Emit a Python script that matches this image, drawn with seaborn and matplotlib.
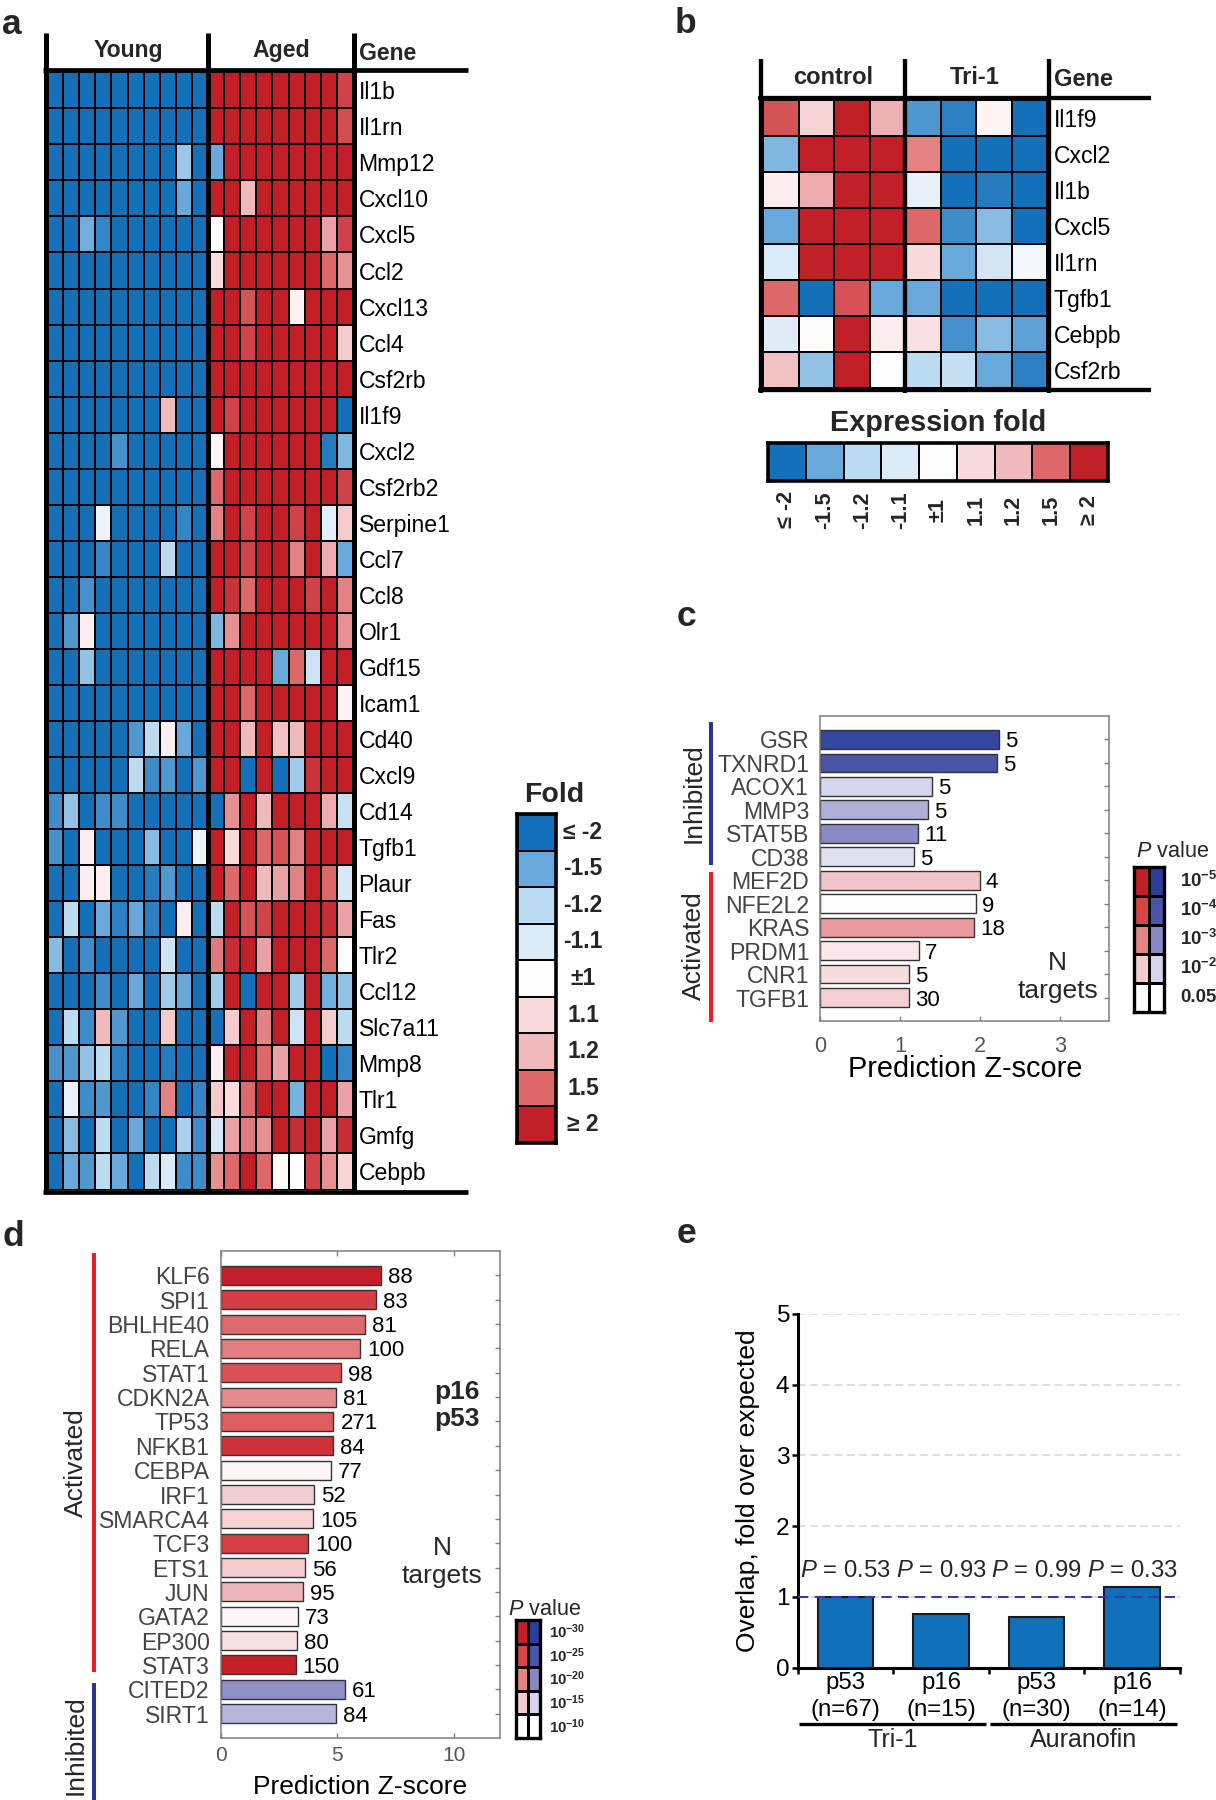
import numpy as np
import pandas as pd
import matplotlib
matplotlib.use("Agg")
import matplotlib.pyplot as plt
import seaborn as sns
from matplotlib.colors import LinearSegmentedColormap, ListedColormap
from matplotlib.transforms import blended_transform_factory as blend

sns.set_theme(style="white")
plt.rcParams["font.family"] = ["Liberation Sans", "DejaVu Sans"]
plt.rcParams["mathtext.fontset"] = "custom"
plt.rcParams["mathtext.rm"] = "Liberation Sans"
plt.rcParams["mathtext.it"] = "Liberation Sans:italic"
plt.rcParams["mathtext.bf"] = "Liberation Sans:bold"

# ---------------- data ----------------
# fold levels: -4 = "<= -2" ... 0 = "+-1" ... 4 = ">= 2"
fold_labels = ["≤ -2", "-1.5", "-1.2", "-1.1", "±1", "1.1", "1.2", "1.5", "≥ 2"]
fold_levels = [-4, -3, -2, -1, 0, 1, 2, 3, 4]

a_genes = ["Il1b", "Il1rn", "Mmp12", "Cxcl10", "Cxcl5", "Ccl2", "Cxcl13", "Ccl4", "Csf2rb",
           "Il1f9", "Cxcl2", "Csf2rb2", "Serpine1", "Ccl7", "Ccl8", "Olr1", "Gdf15", "Icam1",
           "Cd40", "Cxcl9", "Cd14", "Tgfb1", "Plaur", "Fas", "Tlr2", "Ccl12", "Slc7a11",
           "Mmp8", "Tlr1", "Gmfg", "Cebpb"]
a_young = [
    [-4, -4, -4, -4, -4, -4, -4, -4, -4, -4],
    [-4, -4, -4, -4, -4, -4, -4, -4, -4, -4],
    [-4, -4, -4, -4, -4, -4, -4, -4, -2.4, -4],
    [-4, -4, -4, -4, -4, -4, -4, -4, -3, -4],
    [-4, -4, -2.9, -3.6, -4, -4, -4, -4, -4, -4],
    [-4, -4, -4, -4, -4, -4, -4, -4, -4, -4],
    [-4, -4, -4, -4, -4, -4, -4, -4, -4, -4],
    [-4, -4, -4, -4, -4, -4, -4, -4, -4, -4],
    [-4, -4, -4, -4, -4, -4, -4, -4, -4, -4],
    [-4, -4, -4, -4, -4, -4, -4, 2, -4, -4],
    [-4, -4, -4, -4, -3.4, -4, -4, -4, -4, -4],
    [-4, -4, -4, -4, -4, -4, -4, -4, -4, -4],
    [-4, -4, -4, -0.5, -4, -4, -4, -4, -3.6, -4],
    [-4, -4, -4, -3.6, -4, -4, -4, -2, -4, -4],
    [-4, -4, -3.4, -4, -4, -4, -4, -4, -4, -4],
    [-4, -3.3, 0.5, -4, -4, -4, -4, -4, -4, -4],
    [-4, -4, -2.5, -4, -4, -4, -4, -4, -4, -4],
    [-4, -4, -4, -4, -4, -4, -4, -4, -4, -4],
    [-4, -4, -4, -4, -4, -3.3, -2, 0.5, -3, -4],
    [-4, -4, -4, -4, -4, -2, -3.5, -3.3, -4, -3.3],
    [-3.5, -2.5, -4, -3.5, -3.5, -4, -4, -4, -4, -4],
    [-3.4, -4, 0.5, -4, -4, -4, -2.6, -4, -4, -0.5],
    [-4, -4, 0.5, 0.5, -4, -4, -3.8, -3.3, -4, -4],
    [-4, -2, -4, -3, -3.7, -3, -3.7, -4, 0.5, -4],
    [-2.6, -4, -3.5, -4, -4, -4, -4, -1.4, -4, -4],
    [-4, -4, -4, -3.5, -4, -3, -4, -2.3, -3, -4],
    [-4, -2, -3.5, 2, -3.3, -4, -4, 1.5, -4, -4],
    [-3.4, -3.3, -2.5, -2, -3.7, -4, -4, -3.8, -4, -4],
    [-4, -0.6, -3.5, -3.3, -4, -4, -3.6, 2.7, -4, -3.6],
    [-4, -2.6, -4, -2, -4, -3, -4, -4, -2.2, -3.5],
    [-4, -3, -3.3, -2, -3, -4, -2, -1, -3.5, -3.5],
]
a_aged = [
    [4, 4, 4, 4, 4, 4, 4, 4, 3.5],
    [4, 4, 4, 4, 4, 4, 4, 4, 3.4],
    [-3, 4, 4, 4, 4, 4, 4, 4, 4],
    [4, 4, 2, 4, 4, 4, 4, 4, 4],
    [0, 4, 4, 4, 4, 4, 4, 2.3, 3.5],
    [1, 4, 4, 4, 4, 4, 4, 3, 2.5],
    [4, 4, 3.3, 4, 4, 0.4, 4, 4, 4],
    [4, 4, 3.5, 4, 4, 4, 4, 4, 1.5],
    [4, 4, 4, 4, 4, 4, 4, 4, 4],
    [4, 3.5, 4, 4, 4, 4, 4, 4, -4],
    [0.3, 4, 4, 4, 4, 4, 4, -3.8, -2.7],
    [3, 4, 4, 4, 4, 4, 4, 4, 3.5],
    [2.7, 4, 3.5, 4, 4, 3.5, 4, -0.8, 1.5],
    [4, 4, 3.5, 4, 4, 2.7, 4, 2.2, -3],
    [4, 3.7, 3, 4, 4, 4, 3.5, 4, 2.7],
    [-2.7, 2.5, 4, 4, 4, 4, 4, 4, 2.5],
    [4, 4, 4, 4, -3, 3, -1.5, 4, 4],
    [4, 4, 3, 4, 4, 4, 4, 4, 0.3],
    [4, 4, 2, 4, 1.8, 2, 4, 4, 4],
    [4, 4, -4, 4, -4, -2.3, 3.7, 4, 4],
    [-4, 2.5, 4, 2, 4, 4, 4, 2.2, -1.6],
    [4, 1, 4, 3, 3.3, 2.7, 4, 4, 4],
    [4, 3, 4, 2, 2.3, 2.7, 4, 3, -1.1],
    [-2, 4, 3.3, 3.5, 4, 4, 4, 3.8, 2.3],
    [2.8, 3.8, 4, 2.3, 4, 4, 4, 3, 0],
    [-2.3, 4, -4, 4, 4, -2.3, 4, -2.9, -2.5],
    [-4, 1.5, 4, 2.7, 4, -1.5, 4, 1.5, -2],
    [0.5, 4, 4, 3, 2.3, 4, 4, -4, -3.6],
    [1.5, 1, 3, 4, 4, -2.8, 4, 4, 2.3],
    [-1.2, 2.3, 2.8, 2.5, 4, 3.8, 4, 2.3, 3.8],
    [2.5, 3, 4, 3, 0.1, 0, 3.5, 2.5, 1.2],
]

b_genes = ["Il1f9", "Cxcl2", "Il1b", "Cxcl5", "Il1rn", "Tgfb1", "Cebpb", "Csf2rb"]
b_control = [
    [3.3, 1.3, 4, 2.1],
    [-2.7, 4, 4, 4],
    [0.5, 2.2, 4, 4],
    [-3, 4, 4, 4],
    [-1, 4, 4, 4],
    [3, -4, 3.3, -3],
    [-0.9, 0.1, 4, 0.5],
    [1.8, -2.5, 4, 0],
]
b_tri1 = [
    [-3.3, -3.7, 0.3, -4],
    [2.7, -4, -4, -4],
    [-0.7, -4, -3.8, -4],
    [3, -3.5, -2.6, -4],
    [1, -3, -1.3, -0.4],
    [-3, -4, -4, -4],
    [0.9, -3.4, -2.6, -3.1],
    [-2, -1.7, -3, -3.7],
]

# P value level: 0 = most significant ... 4 = least significant
c_genes = ["GSR", "TXNRD1", "ACOX1", "MMP3", "STAT5B", "CD38",
           "MEF2D", "NFE2L2", "KRAS", "PRDM1", "CNR1", "TGFB1"]
c_z = [2.23, 2.21, 1.39, 1.35, 1.225, 1.17, 1.99, 1.95, 1.92, 1.23, 1.11, 1.11]
c_n = [5, 5, 5, 5, 11, 5, 4, 9, 18, 7, 5, 30]
c_plevel = [0.3, 1.0, 3.0, 2.5, 2.0, 3.3, 2.9, 3.95, 2.3, 3.5, 3.3, 3.05]
c_group = ["Inhibited"] * 6 + ["Activated"] * 6
c_p_labels = [r"$\mathbf{10^{-5}}$", r"$\mathbf{10^{-4}}$", r"$\mathbf{10^{-3}}$",
              r"$\mathbf{10^{-2}}$", "0.05"]

d_genes = ["KLF6", "SPI1", "BHLHE40", "RELA", "STAT1", "CDKN2A", "TP53", "NFKB1", "CEBPA",
           "IRF1", "SMARCA4", "TCF3", "ETS1", "JUN", "GATA2", "EP300", "STAT3",
           "CITED2", "SIRT1"]
d_z = [6.85, 6.66, 6.2, 5.99, 5.16, 4.93, 4.83, 4.81, 4.73, 4.0, 3.96, 3.76, 3.6, 3.51,
       3.31, 3.26, 3.21, 5.34, 4.93]
d_n = [88, 83, 81, 100, 98, 81, 271, 84, 77, 52, 105, 100, 56, 95, 73, 80, 150, 61, 84]
d_plevel = [0.0, 0.8, 1.6, 1.9, 1.2, 2.1, 1.4, 0.5, 3.8, 3.0, 3.1, 0.9, 3.0, 2.7, 3.8,
            3.4, 0.0, 2.1, 2.6]
d_group = ["Activated"] * 17 + ["Inhibited"] * 2
d_p_labels = [r"$\mathbf{10^{-30}}$", r"$\mathbf{10^{-25}}$", r"$\mathbf{10^{-20}}$",
              r"$\mathbf{10^{-15}}$", r"$\mathbf{10^{-10}}$"]

e_labels = ["p53\n(n=67)", "p16\n(n=15)", "p53\n(n=30)", "p16\n(n=14)"]
e_fold = [1.0, 0.76, 0.72, 1.145]
e_p = ["0.53", "0.93", "0.99", "0.33"]
e_treat = ["Tri-1", "Tri-1", "Auranofin", "Auranofin"]

# ---------------- colours ----------------
fold_colors = ["#1470b8", "#68a8da", "#bbdbf0", "#dbeaf7", "#ffffff",
               "#f9dcdf", "#f0bbbd", "#de6a6c", "#c11f27"]
fold_cmap = LinearSegmentedColormap.from_list("fold", fold_colors)
red_p = ["#c41f26", "#d84448", "#e48486", "#f4cccf", "#ffffff"]
blue_p = ["#2b3f99", "#4a55a8", "#8888c4", "#d4d4ec", "#ffffff"]
red_cmap = LinearSegmentedColormap.from_list("pred", red_p)
blue_cmap = LinearSegmentedColormap.from_list("pblue", blue_p)
GRAY = "#444444"


def bar_color(level, group):
    cmap = blue_cmap if group == "Inhibited" else red_cmap
    return cmap(level / 4)


W, H = 1216, 1800
fig = plt.figure(figsize=(W / 100, H / 100), dpi=100)


def place(x0, y0, x1, y1):
    # axes box given in pixels from the top-left corner
    return fig.add_axes([x0 / W, 1 - y1 / H, (x1 - x0) / W, (y1 - y0) / H])


def boxed(ax, lw):
    for s in ax.spines.values():
        s.set_visible(True)
        s.set_linewidth(lw)
        s.set_color("black")


# ---------------- panel a ----------------
a_df = pd.DataFrame([y + a for y, a in zip(a_young, a_aged)], index=a_genes)
ax_a = place(47, 72.3, 353, 1189.5)
sns.heatmap(a_df, ax=ax_a, cmap=fold_cmap, vmin=-4, vmax=4, cbar=False,
            linewidths=1.1, linecolor="black", xticklabels=False, yticklabels=True)
ax_a.yaxis.tick_right()
ax_a.tick_params(axis="y", length=0, pad=4, labelsize=16.6, labelrotation=0, labelcolor="black")

ax_f = place(517.3, 814, 555.7, 1143)
sns.heatmap(pd.DataFrame({"fold": fold_levels}), ax=ax_f, cmap=fold_cmap, vmin=-4, vmax=4,
            cbar=False, linewidths=1.1, linecolor="black", xticklabels=False, yticklabels=False)
boxed(ax_f, 2.6)
tr = blend(ax_f.transAxes, ax_f.transData)
for i, lab in enumerate(fold_labels):
    ax_f.text(1.71, i + 0.5, lab, transform=tr, ha="center", va="center",
              fontsize=16.5, fontweight="bold")
ax_f.text(0.96, 1.058, "Fold", transform=ax_f.transAxes, ha="center", va="center",
          fontsize=20.5, fontweight="bold")

# ---------------- panel b ----------------
b_df = pd.DataFrame([c + t for c, t in zip(b_control, b_tri1)], index=b_genes)
ax_b = place(763, 100, 1047, 387.7)
sns.heatmap(b_df, ax=ax_b, cmap=fold_cmap, vmin=-4, vmax=4, cbar=False,
            linewidths=1.4, linecolor="black", xticklabels=False, yticklabels=True)
ax_b.yaxis.tick_right()
ax_b.tick_params(axis="y", length=0, pad=5, labelsize=16.6, labelrotation=0, labelcolor="black")

ax_eb = place(768, 443, 1108, 481)
sns.heatmap(pd.DataFrame([fold_levels]), ax=ax_eb, cmap=fold_cmap, vmin=-4, vmax=4,
            cbar=False, linewidths=1.4, linecolor="black", xticklabels=False, yticklabels=False)
boxed(ax_eb, 2.6)
tr = blend(ax_eb.transData, ax_eb.transAxes)
for i, lab in enumerate(fold_labels):
    ax_eb.text(i + 0.5, -0.76, lab, transform=tr, ha="center", va="center", rotation=90,
               fontsize=15.6, fontweight="bold")
ax_eb.text(0.5, 1.53, "Expression fold", transform=ax_eb.transAxes, ha="center",
           va="center", fontsize=20.8, fontweight="bold")


# ---------------- panels c & d (bar charts) ----------------
def zbar(ax, genes, z, n, plevel, group, xmax, xticks, n_off, bar_w, top_ticks):
    pal = {g: bar_color(l, grp) for g, l, grp in zip(genes, plevel, group)}
    sns.barplot(x=z, y=genes, hue=genes, palette=pal, legend=False, orient="h",
                width=bar_w, saturation=1, edgecolor="#333333", linewidth=1.0, ax=ax)
    ax.set_xlim(0, xmax)
    ax.set_ylim(len(genes), -1)
    ax.set_xticks(xticks)
    for s in ax.spines.values():
        s.set_visible(True)
        s.set_color("#7f7f7f")
        s.set_linewidth(1.1)
    ax.tick_params(axis="x", direction="in", bottom=True, top=top_ticks, length=3.5,
                   width=1, color="#7f7f7f", labelsize=15.6, labelcolor="#555555", pad=11)
    ax.tick_params(axis="y", direction="in", left=False, right=True, length=3.5, width=1,
                   color="#7f7f7f", labelsize=16.6, labelcolor=GRAY, pad=8)
    for i, (zz, nn) in enumerate(zip(z, n)):
        ax.text(zz + n_off, i, str(nn), ha="left", va="center_baseline", fontsize=16,
                color="black")
    ax.set_ylabel("")
    ax.set_xlabel("Prediction Z-score", fontsize=20.8, color="black")


ax_c = place(820.3, 716, 1109.3, 1021)
zbar(ax_c, c_genes, c_z, c_n, c_plevel, c_group, 3.61, [0, 1, 2, 3], 0.075, 0.8, False)
ax_c.xaxis.set_label_coords(0.5, -0.11)
ax_c.text(0.821, 0.143, "N\ntargets", transform=ax_c.transAxes, ha="center", va="center",
          fontsize=19, linespacing=1.2)

ax_d = place(220.7, 1251, 500, 1738)
zbar(ax_d, d_genes, d_z, d_n, d_plevel, d_group, 11.97, [0, 5, 10], 0.3, 0.78, True)
ax_d.tick_params(axis="x", pad=6, labelsize=15)
# the reference crops this label at the page edge; keep it just inside instead
ax_d.xaxis.label.set_fontsize(19)
ax_d.xaxis.label.set_va("bottom")
ax_d.xaxis.set_label_coords(0.5, -(1799.5 - 1738) / (1738 - 1251))
ax_d.text(0.846, 0.682, "p16\np53", transform=ax_d.transAxes, ha="center", va="center",
          fontsize=19, fontweight="bold", linespacing=1.15)
ax_d.text(0.792, 0.361, "N\ntargets", transform=ax_d.transAxes, ha="center", va="center",
          fontsize=19, linespacing=1.2)


def p_legend(box, labels, fs, title_xy):
    ax = place(*box)
    mat = pd.DataFrame({"act": range(5), "inh": range(5, 10)})
    sns.heatmap(mat, ax=ax, cmap=ListedColormap(red_p + blue_p), vmin=-0.5, vmax=9.5,
                cbar=False, linewidths=1.0, linecolor="black", xticklabels=False,
                yticklabels=False)
    boxed(ax, 2.4)
    tr = blend(ax.transAxes, ax.transData)
    for i, lab in enumerate(labels):
        ax.text(1.53 if fs > 12 else 1.4, i + 0.5, lab, transform=tr, ha="left",
                va="center", fontsize=fs, fontweight="bold")
    ax.text(title_xy[0], title_xy[1], r"$P$ value", transform=ax.transAxes, ha="center",
            va="center", fontsize=15.6)
    return ax


p_legend((1134, 866.7, 1164, 1011.7), c_p_labels, 13.4, (1.29, 1.108))
p_legend((515.6, 1620, 539.7, 1738), d_p_labels, 10.8, (1.22, 1.09))

# ---------------- panel e ----------------
ax_e = place(797.7, 1314, 1180, 1667.7)
sns.barplot(x=e_labels, y=e_fold, color="#1170ba", saturation=1, width=0.58,
            edgecolor="#1a1a1a", linewidth=1.5, ax=ax_e, zorder=3)
ax_e.set_xlim(-0.5, 3.5)
ax_e.set_ylim(0, 5)
ax_e.set_yticks(range(6))
ax_e.yaxis.grid(True, linestyle=(0, (5, 3)), color="#d6d6d6", linewidth=1.1)
ax_e.set_axisbelow(True)
ax_e.axhline(1, color="#3a3aa6", linestyle=(0, (5, 3)), linewidth=1.5, zorder=4)
sns.despine(ax=ax_e)
for side in ("left", "bottom"):
    ax_e.spines[side].set_color("black")
    ax_e.spines[side].set_linewidth(2.2)
ax_e.set_xticks(np.arange(-0.5, 4, 1), minor=True)
ax_e.tick_params(axis="x", which="minor", bottom=True, direction="out", length=4,
                 width=1.8, color="black")
ax_e.tick_params(axis="x", which="major", bottom=False, length=0, pad=3, labelsize=17.2,
                 labelcolor="black")
ax_e.tick_params(axis="y", left=True, direction="out", length=4, width=1.8, color="black",
                 labelsize=17.6, pad=2, labelcolor="black")
for lab in ax_e.get_xticklabels():
    lab.set_linespacing(1.3)
for i, p in enumerate(e_p):
    ax_e.text(i, 1.28, r"$P$ = " + p, ha="center", va="baseline", fontsize=17.2)
ax_e.set_ylabel("Overlap, fold over expected", fontsize=19, color="black")
ax_e.yaxis.label.set_va("center")
ax_e.yaxis.set_label_coords(-0.131, 0.5)
ax_e.set_xlabel("")
trx = ax_e.get_xaxis_transform()
for name in dict.fromkeys(e_treat):
    idx = [i for i, t in enumerate(e_treat) if t == name]
    x0, x1 = idx[0] - 0.49, idx[-1] + 0.47
    ax_e.plot([x0, x1], [-0.159, -0.159], transform=trx, color="black", lw=2.4,
              clip_on=False, solid_capstyle="butt")
    ax_e.text((x0 + x1) / 2, -0.204, name, transform=trx, ha="center", va="center",
              fontsize=18)

# ---------------- frames, brackets and panel letters ----------------
ov = fig.add_axes([0, 0, 1, 1], zorder=10)
ov.set_xlim(0, W)
ov.set_ylim(H, 0)
ov.axis("off")


def seg(x0, y0, x1, y1, lw, color="black"):
    ov.plot([x0, x1], [y0, y1], color=color, lw=lw, solid_capstyle="butt")


# panel a table frame
for x in (45.8, 207.8, 353.8):
    seg(x, 33, x, 1194.3, 3.6)
seg(43.3, 70, 468, 70, 3.4)
seg(43.3, 1191.8, 468, 1191.8, 3.4)
ov.text(128, 51, "Young", ha="center", va="center", fontsize=16.6, fontweight="bold")
ov.text(281, 51, "Aged", ha="center", va="center", fontsize=16.6, fontweight="bold")
ov.text(359, 53, "Gene", ha="left", va="center", fontsize=16.6, fontweight="bold")

# panel b table frame
for x in (760.5, 904.5, 1049):
    seg(x, 59.3, x, 392.5, 3.1)
seg(758, 97.8, 1151, 97.8, 3.1)
seg(758, 390, 1151, 390, 3.1)
ov.text(833, 78, "control", ha="center", va="center", fontsize=17, fontweight="bold")
ov.text(975, 78, "Tri-1", ha="center", va="center", fontsize=17, fontweight="bold")
ov.text(1054, 79, "Gene", ha="left", va="center", fontsize=17, fontweight="bold")

# brackets for panels c and d
BLUE, RED = "#2b3490", "#ed1c24"
seg(711.4, 721.7, 711.4, 865, 2.9, BLUE)
seg(711.4, 871.7, 711.4, 1021.7, 2.9, RED)
ov.text(693.5, 793, "Inhibited", rotation=90, ha="center", va="center", fontsize=19)
ov.text(693.5, 946, "Activated", rotation=90, ha="center", va="center", fontsize=19)
seg(94.3, 1253, 94.3, 1672, 2.9, RED)
seg(94.3, 1683, 94.3, 1800, 2.9, BLUE)
ov.text(76, 1463, "Activated", rotation=90, ha="center", va="center", fontsize=19)
ov.text(76, 1745, "Inhibited", rotation=90, ha="center", va="center", fontsize=19)

for letter, x, y in [("a", 12, 34), ("b", 685, 33), ("c", 686, 626), ("d", 13, 1246),
                     ("e", 686, 1243)]:
    ov.text(x, y, letter, ha="center", va="baseline", fontsize=25.5, fontweight="bold")

fig.savefig("out.png", dpi=100)
